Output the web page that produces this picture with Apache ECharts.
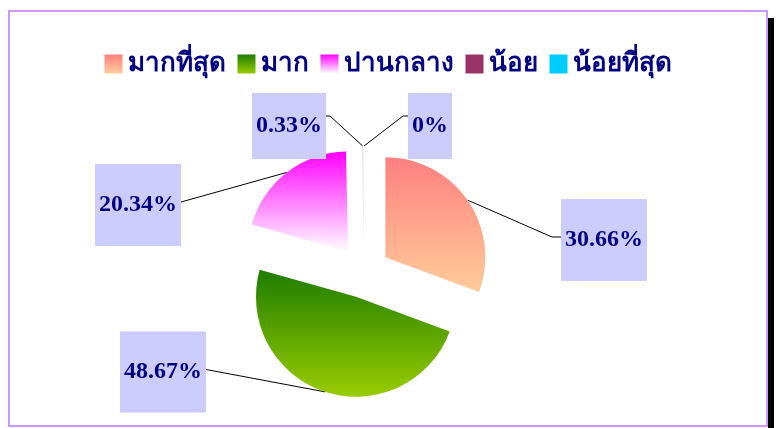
<!DOCTYPE html>
<html>
<head>
<meta charset="utf-8">
<script src="https://cdn.jsdelivr.net/npm/echarts@6/dist/echarts.min.js"></script>
<style>
  html, body { margin: 0; padding: 0; background: #fff; }
  #pie-chart { width: 776px; height: 428px; }
</style>
</head>
<body>
<div id="pie-chart"></div>
<script>
var categories = ['มากที่สุด', 'มาก', 'ปานกลาง', 'น้อย', 'น้อยที่สุด'];
var percents = [30.66, 48.67, 20.34, 0.33, 0];

// fill colours (top -> bottom gradient)
var topColors = ['#FF8080', '#1E7D00', '#FF00FF', '#993366', '#00CCFF'];
var bottomColors = ['#FFCC99', '#99CC00', '#FFFFFF', '#993366', '#00CCFF'];
// the 0.33% sliver hardly shows in the original
var sliceOpacity = [1, 1, 1, 0.12, 1];

// label box centres, paddings and short leader tails
var labelPos = [[604, 240], [163, 372], [138, 205], [289, 126], [430, 126]];
var labelPad = [[30, 4, 28, 4], [30, 4, 27, 4], [30, 4, 28, 4], [15, 4, 27, 4], [15, 4, 27, 4]];
var leaderTail = [9, 0, 0, 4, 5];

var pieRadius = 100;
var explode = 26;

var myChart = echarts.init(document.getElementById('pie-chart'));

function fillOf(i) {
    return new echarts.graphic.LinearGradient(0, 0, 0, 1, [
        { offset: 0, color: topColors[i] },
        { offset: 1, color: bottomColors[i] }
    ]);
}

var pieData = categories.map(function (name, i) {
    return {
        name: name,
        value: percents[i],
        selected: true,
        itemStyle: { color: fillOf(i), opacity: sliceOpacity[i] }
    };
});

// same values again, only used to hang the labels on (outer edge = exploded edge)
var labelData = categories.map(function (name, i) {
    return {
        name: name,
        value: percents[i],
        label: { padding: labelPad[i] }
    };
});

var legendData = categories.map(function (name, i) {
    return { name: name, itemStyle: { color: fillOf(i), opacity: 1 } };
});

var option = {
    animation: false,
    backgroundColor: '#fff',
    graphic: [
        {
            type: 'rect',
            shape: { x: 768, y: 18, width: 6, height: 410 },
            style: { fill: '#000' }
        },
        {
            type: 'rect',
            shape: { x: 9, y: 11, width: 758, height: 415 },
            style: { fill: 'none', stroke: '#CC99FF', lineWidth: 2 }
        }
    ],
    legend: {
        top: 46,
        left: 'center',
        itemWidth: 18,
        itemHeight: 19,
        itemGap: 12,
        selectedMode: false,
        icon: 'rect',
        textStyle: {
            fontFamily: 'Liberation Serif, serif',
            fontWeight: 'bold',
            fontSize: 26,
            color: '#000080'
        },
        data: legendData
    },
    series: [{
        type: 'pie',
        center: [364, 272],
        radius: pieRadius,
        startAngle: 90,
        clockwise: true,
        selectedMode: 'multiple',
        selectedOffset: explode,
        silent: true,
        emphasis: { disabled: true },
        label: { show: false },
        labelLine: { show: false },
        data: pieData
    }, {
        type: 'pie',
        center: [364, 272],
        radius: pieRadius + explode,
        startAngle: 90,
        clockwise: true,
        silent: true,
        avoidLabelOverlap: false,
        emphasis: { disabled: true },
        itemStyle: { color: 'rgba(0,0,0,0)' },
        label: {
            show: true,
            position: 'outside',
            formatter: '{c}%',
            fontFamily: 'Liberation Serif, serif',
            fontWeight: 'bold',
            fontSize: 24,
            lineHeight: 24,
            color: '#000080',
            backgroundColor: '#CCCCFF'
        },
        labelLine: {
            show: true,
            length: 5,
            length2: 5,
            lineStyle: { color: '#000', width: 1 }
        },
        labelLayout: function (params) {
            var i = params.dataIndex;
            var p = labelPos[i];
            var w = params.labelRect.width, h = params.labelRect.height;
            var anchor = params.labelLinePoints ? params.labelLinePoints[0] : [364, 272];
            var onLeft = anchor[0] > p[0];
            var edgeX = onLeft ? p[0] + w / 2 : p[0] - w / 2;
            var ly = p[1] - h / 2 + labelPad[i][0] + 8;
            var tailX = onLeft ? edgeX + leaderTail[i] : edgeX - leaderTail[i];
            return {
                x: p[0],
                y: p[1],
                align: 'center',
                verticalAlign: 'middle',
                labelLinePoints: [anchor, [tailX, ly], [edgeX, ly]]
            };
        },
        data: labelData
    }]
};

myChart.setOption(option);
</script>
</body>
</html>
